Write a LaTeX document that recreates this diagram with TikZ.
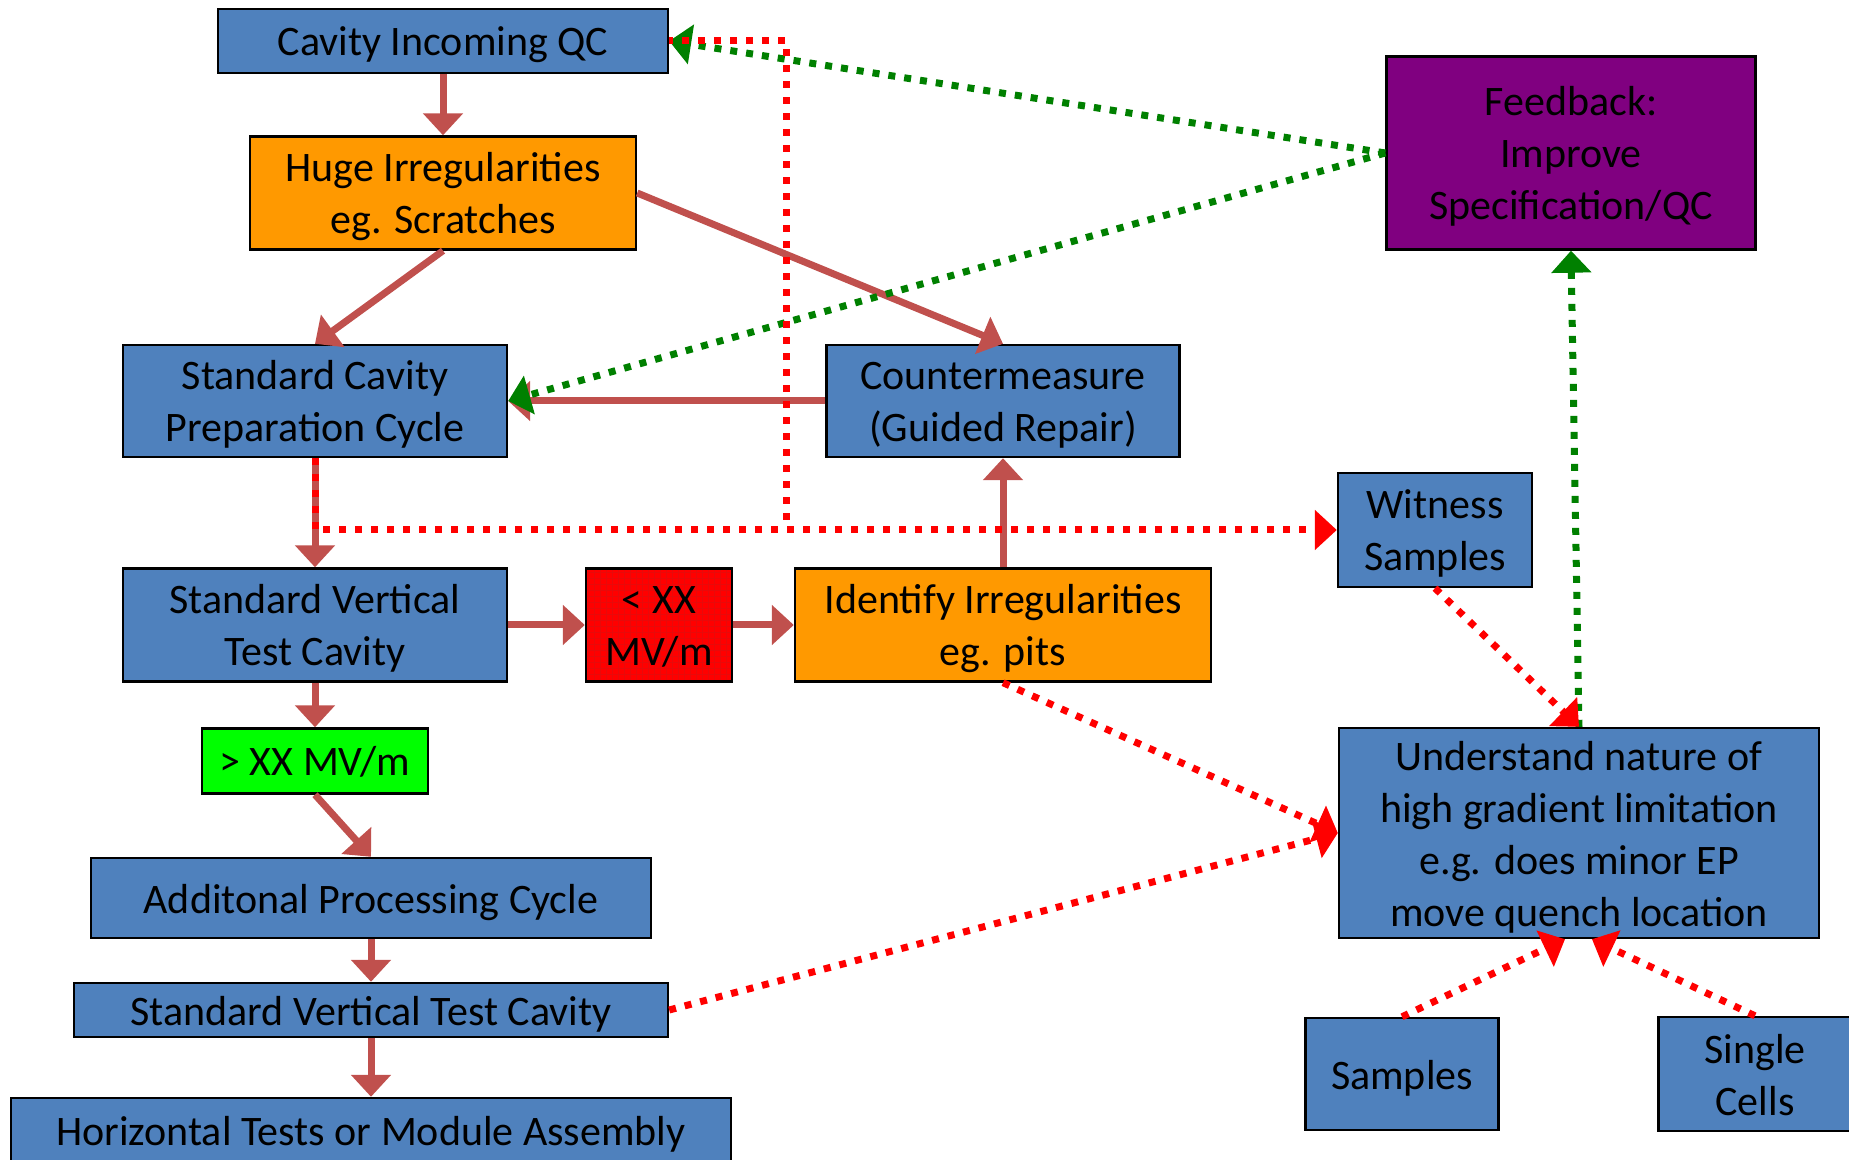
\documentclass[tikz,border=0pt]{standalone}
\usepackage{fontspec}
\setmainfont{Carlito}
\usetikzlibrary{arrows.meta,calc,patterns}

\definecolor{boxblue}{HTML}{4F81BD}
\definecolor{boxorange}{HTML}{FF9900}
\definecolor{boxpurple}{HTML}{800080}
\definecolor{boxgreen}{HTML}{00FF00}
\definecolor{gridred}{RGB}{232,10,10}
\definecolor{flowred}{HTML}{C0504D}
\definecolor{dotgreen}{HTML}{008000}

\begin{document}
\begin{tikzpicture}[x=0.5pt,y=-0.5pt,
	font=\fontsize{21}{26}\selectfont,
	box/.style={draw=black, line width=1.2pt, align=flush center, inner sep=0pt,
		execute at begin node={\rule{0pt}{21pt}},
		execute at end node={\rule[-6pt]{0pt}{0pt}}},
	sized/.style 2 args={text width=#1*0.5pt, minimum height=#2*0.5pt},
	tip/.style={-{Triangle[width=19.5pt,length=11pt]}},
	flow/.style={draw=flowred, line width=3.5pt, tip},
	reddot/.style={draw=red, line width=3.5pt, dash pattern=on 3.5pt off 4.5pt},
	greendot/.style={draw=dotgreen, line width=3.5pt, dash pattern=on 3.5pt off 4.5pt}]
	\useasboundingbox (0,0) rectangle (1849,1160);
	\clip (0,0) rectangle (1849,1160);

	% boxes
	\node[box, fill=boxblue, sized={450}{64}] (qc) at (443,41) {Cavity Incoming QC};
	\node[box, fill=boxorange, sized={386}{113}] (huge) at (443,193) {Huge Irregularities\\eg. Scratches};
	\node[box, fill=boxblue, sized={384}{112}] (prep) at (315,401) {Standard Cavity\\Preparation Cycle};
	\node[box, fill=boxblue, sized={353}{112}] (cm) at (1003,401) {Countermeasure\\(Guided Repair)};
	\node[box, fill=boxblue, sized={194}{114}] (wit) at (1435,530) {Witness\\Samples};
	\node[box, fill=boxpurple, sized={369}{193}] (fb) at (1571,153) {Feedback:\\Improve\\Specification/QC};
	\node[box, fill=boxblue, sized={384}{113}] (svt) at (315,625) {Standard Vertical\\Test Cavity};
	\node[box, preaction={fill=red}, pattern=grid, pattern color=gridred, sized={146}{113}] (low) at (659,625) {< XX\\MV/m};
	\node[box, fill=boxorange, sized={416}{113}] (ident) at (1003,625) {Identify Irregularities\\eg. pits};
	\node[box, fill=boxgreen, sized={226}{65}] (high) at (315,761) {> XX MV/m};
	\node[box, fill=boxblue, sized={560}{80}] (add) at (371,898) {Additonal Processing Cycle};
	\node[box, fill=boxblue, sized={594}{48}] (svt2) at (371,1010) {Standard Vertical Test Cavity};
	\node[box, fill=boxblue, sized={720}{64}] (horiz) at (371,1130) {Horizontal Tests or Module Assembly};
	\node[box, fill=boxblue, sized={480}{209}] (und) at (1579,833) {Understand nature of\\high gradient limitation\\e.g. does minor EP\\move quench location};
	\node[box, fill=boxblue, sized={193}{112}] (samp) at (1402,1074) {Samples};
	\node[box, fill=boxblue, sized={193}{114}] (cells) at (1755,1074) {Single\\Cells};

	% main flow
	\draw[flow] (qc.south) -- (huge.north);
	\draw[flow] (huge.south) -- (prep.north);
	\draw[flow] (huge.east) -- (cm.north);
	\draw[flow] (cm.west) -- (prep.east);
	\draw[flow] (prep.south) -- (svt.north);
	\draw[flow] (svt.east) -- (low.west);
	\draw[flow] (low.east) -- (ident.west);
	\draw[flow] (ident.north) -- (cm.south);
	\draw[flow] (svt.south) -- (high.north);
	\draw[flow] (high.south) -- (add.north);
	\draw[flow] (add.south) -- (svt2.north);
	\draw[flow] (svt2.south) -- (horiz.north);

	% green feedback lines
	\draw[greendot, tip] (fb.west) -- (qc.east);
	\draw[greendot, tip] (fb.west) -- (prep.east);
	\draw[greendot, tip] (und.north) -- (fb.south);

	% red dotted lines
	\coordinate (fork) at (786,520);
	\draw[reddot, tip] (prep.south) |- (wit.west);
	\draw[reddot] (fork) |- (qc.east);
	\draw[reddot, tip] (wit.south) -- (und.north);
	\draw[reddot, tip] (ident.south) -- (und.west);
	\draw[reddot, tip] (svt2.east) -- (und.west);
	\draw[reddot, tip] (samp.north) -- ($(und.south)+(-14,0)$);
	\draw[reddot, tip] (cells.north) -- ($(und.south)+(13,0)$);
\end{tikzpicture}
\end{document}
